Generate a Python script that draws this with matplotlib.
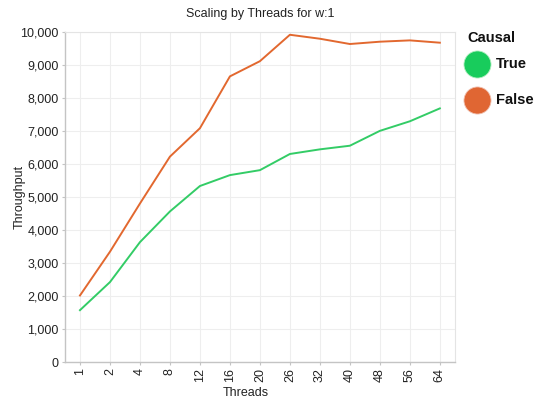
import matplotlib
matplotlib.use("Agg")
import matplotlib.pyplot as plt
from matplotlib.lines import Line2D

threads = ["1", "2", "4", "8", "12", "16", "20", "26", "32", "40", "48", "56", "64"]
causal_true = [1570, 2420, 3630, 4560, 5330, 5660, 5810, 6300, 6440, 6550, 7000, 7290, 7680]
causal_false = [2015, 3340, 4800, 6220, 7080, 8650, 9110, 9910, 9790, 9630, 9700, 9740, 9670]
series_names = ["True", "False"]
line_colors = ["#33cc66", "#e2682f"]
legend_colors = ["#18cc5c", "#e06633"]

plt.rcParams['font.family'] = ['Liberation Sans', 'DejaVu Sans']

fig = plt.figure(figsize=(5.37, 4.03), dpi=100)
ax = fig.add_axes([0.121, 0.1017, 0.726, 0.8194])

x = list(range(len(threads)))
ax.plot(x, causal_true, color=line_colors[0], lw=1.4)
ax.plot(x, causal_false, color=line_colors[1], lw=1.4)

ax.set_xlim(-0.5, len(threads) - 0.5)
ax.set_ylim(0, 10000)
ax.set_xticks(x)
ax.set_xticklabels(threads, rotation=90, fontsize=9, color="#222222")
ax.set_yticks(range(0, 10001, 1000))
ax.set_yticklabels([f"{v:,}" for v in range(0, 10001, 1000)], fontsize=9, color="#222222")
ax.grid(True, color="#eeeeee", lw=0.8)
ax.set_axisbelow(True)
for s in ["top", "right"]:
    ax.spines[s].set_color("#e4e4e4")
    ax.spines[s].set_linewidth(0.8)
for s in ["left", "bottom"]:
    ax.spines[s].set_color("#c4c4c4")
    ax.spines[s].set_linewidth(1.0)
ax.tick_params(axis="both", length=2.5, color="#c4c4c4", width=0.8, pad=2)
ax.set_xlabel("Threads", fontsize=9, color="#222222")
ax.set_ylabel("Throughput", fontsize=9, color="#222222")
ax.xaxis.set_label_coords((246 - 65) / 390, -(387 - 362) / 330.3, transform=ax.transAxes)
ax.yaxis.set_label_coords(-(65 - 26) / 390, 0.5, transform=ax.transAxes)
ax.set_title("Scaling by Threads for w:1", fontsize=9, color="#222222", pad=11)

# legend
fig.text(467 / 537, 1 - 38 / 403, "Causal", fontsize=10.5, fontweight="bold",
         color="#111111", ha="left", va="center")
for i, (name, c) in enumerate(zip(series_names, legend_colors)):
    yy = 1 - (64 + 36 * i) / 403
    fig.add_artist(Line2D([477 / 537], [yy], marker="o", markersize=19.5, color=c,
                          markeredgecolor="#f0c0b0" if i else "#b0eec0", markeredgewidth=0.6,
                          linestyle="", transform=fig.transFigure))
    fig.text(496 / 537, yy, name, fontsize=10.5, fontweight="bold", color="#111111",
             ha="left", va="center")

fig.savefig("out.png", dpi=100)
